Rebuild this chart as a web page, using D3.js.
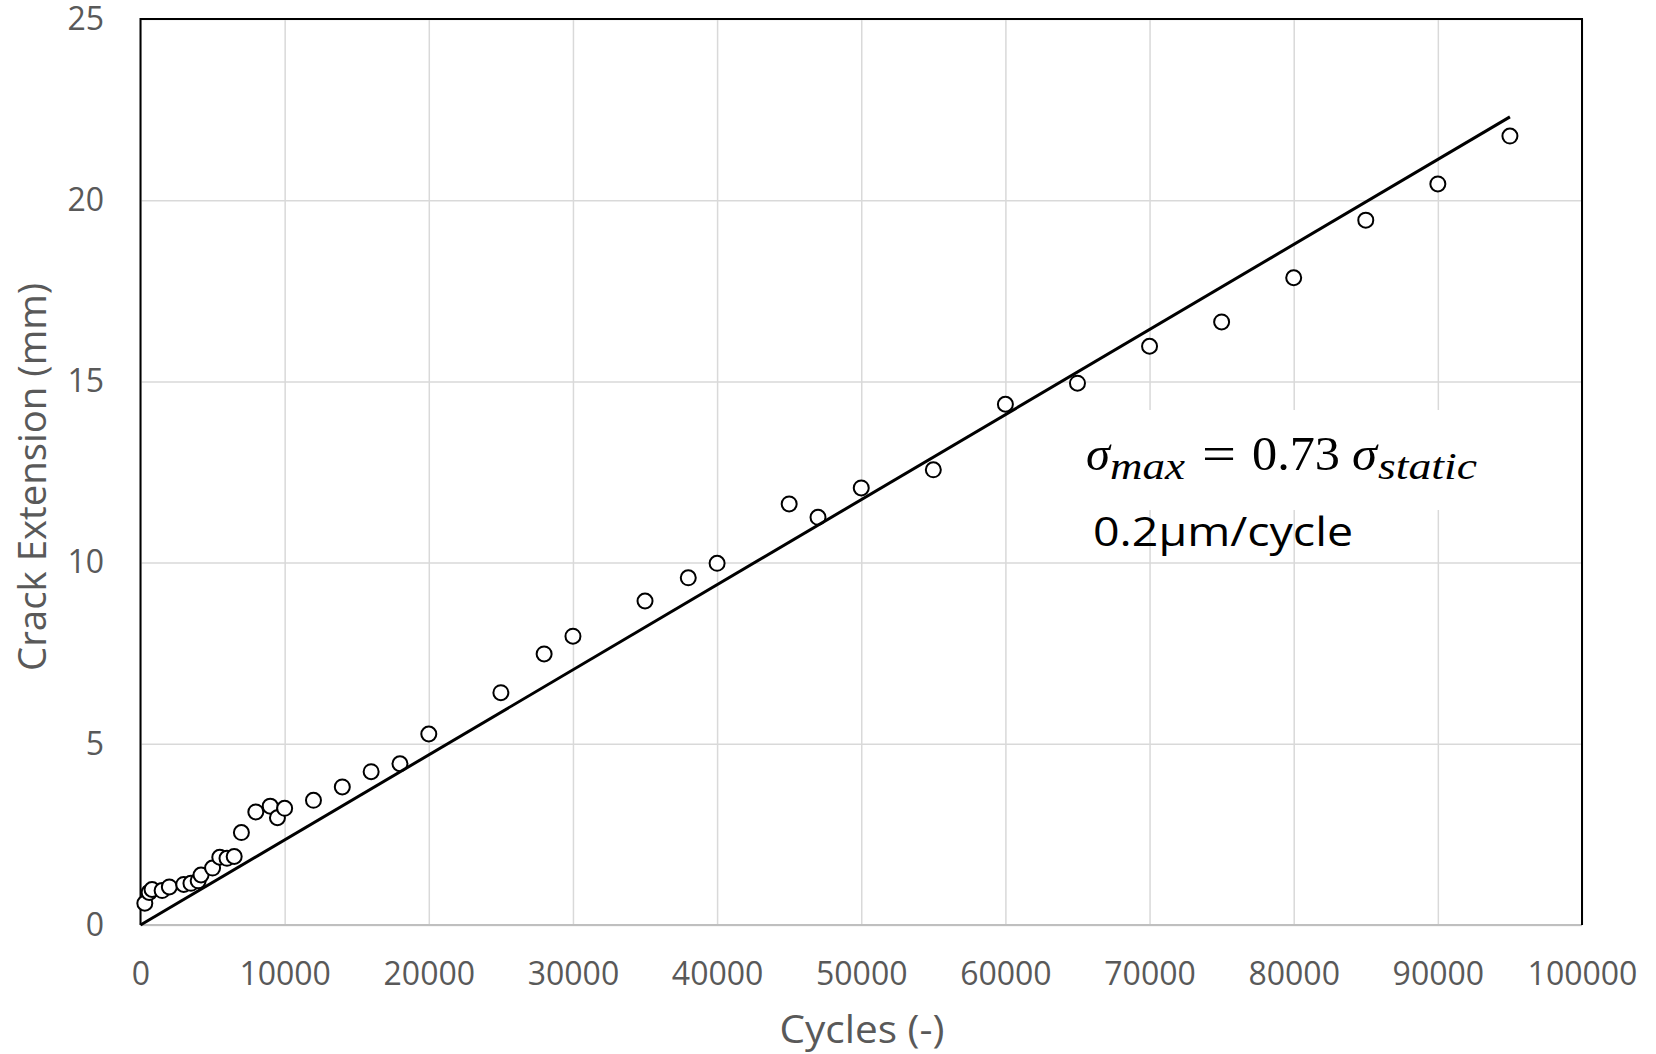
<!DOCTYPE html>
<html><head><meta charset="utf-8">
<script src="https://cdn.jsdelivr.net/npm/d3@7"></script>
<style>body{margin:0;background:#fff;} svg{display:block;}</style>
</head><body>
<svg id="chart" width="1656" height="1054"></svg>
<script>
// ---- data ----
const cycles = [300, 600, 800, 1500, 2000, 3000, 3500, 4000, 4200, 5000, 5500, 6000, 6500, 7000, 8000, 9000, 9500, 10000,
  12000, 14000, 16000, 18000, 20000, 25000, 28000, 30000, 35000, 38000, 40000, 45000, 47000, 50000, 55000,
  60000, 65000, 70000, 75000, 80000, 85000, 90000, 95000];
const crackExt = [0.60, 0.90, 0.98, 0.95, 1.05, 1.12, 1.15, 1.22, 1.38, 1.57, 1.87, 1.84, 1.89, 2.55, 3.12, 3.28, 2.96, 3.22,
  3.44, 3.81, 4.23, 4.45, 5.27, 6.41, 7.48, 7.97, 8.94, 9.58, 9.98, 11.62, 11.25, 12.06, 12.56,
  14.37, 14.95, 15.97, 16.64, 17.86, 19.45, 20.45, 21.77];
const fitCycles = [0, 95000];
const fitExt = [0, 22.3];
const xTickValues = [0, 10000, 20000, 30000, 40000, 50000, 60000, 70000, 80000, 90000, 100000];
const yTickValues = [0, 5, 10, 15, 20, 25];
const xTitle = "Cycles (-)";
const yTitle = "Crack Extension (mm)";
const rateLabel = "0.2\u00B5m/cycle";
const eqParts = ["\u03C3", "max", "=", "0.73", "\u03C3", "static"];

// ---- layout ----
const m = {left: 140.5, top: 19, right: 1582, bottom: 925};
const x = d3.scaleLinear().domain([0, 100000]).range([m.left, m.right]);
const y = d3.scaleLinear().domain([0, 25]).range([m.bottom, m.top]);
const svg = d3.select('#chart');
const tickColor = '#595959';

// gridlines + tick labels via axes
const gx = svg.append('g').attr('transform', `translate(0,${m.bottom})`)
  .call(d3.axisBottom(x).tickValues(xTickValues).tickSize(-(m.bottom - m.top)).tickPadding(37).tickFormat(d3.format('d')));
const gy = svg.append('g').attr('transform', `translate(${m.left},0)`)
  .call(d3.axisLeft(y).tickValues(yTickValues).tickSize(-(m.right - m.left)).tickPadding(36.5).tickFormat(d3.format('d')));
[gx, gy].forEach(g => {
  g.select('.domain').remove();
  g.selectAll('.tick line').attr('stroke', '#d9d9d9').attr('stroke-width', 1.5);
  g.selectAll('.tick text').attr('fill', tickColor).style('font-family', '"Open Sans", sans-serif').style('font-size', '32px');
});

// white box behind equation
svg.append('rect').attr('x', 1075).attr('y', 410).attr('width', 418).attr('height', 100).attr('fill', '#fff');

// frame
svg.append('line').attr('x1', m.left).attr('x2', m.right).attr('y1', m.bottom).attr('y2', m.bottom)
  .attr('stroke', '#bfbfbf').attr('stroke-width', 2);
svg.append('path').attr('d', `M${m.left},${m.bottom}V${m.top}H${m.right}V${m.bottom}`)
  .attr('fill', 'none').attr('stroke', '#000').attr('stroke-width', 2);

// markers
const pts = cycles.map((c, i) => ({c, e: crackExt[i]}));
svg.append('g').selectAll('circle').data(pts).join('circle')
  .attr('cx', d => x(d.c)).attr('cy', d => y(d.e)).attr('r', 7.5)
  .attr('fill', '#fff').attr('stroke', '#000').attr('stroke-width', 2);

// fit line
const fit = fitCycles.map((c, i) => [c, fitExt[i]]);
svg.append('path').datum(fit).attr('d', d3.line().x(d => x(d[0])).y(d => y(d[1])))
  .attr('fill', 'none').attr('stroke', '#000').attr('stroke-width', 3);

// axis titles
svg.append('text').attr('x', 862).attr('y', 1043).attr('text-anchor', 'middle')
  .attr('fill', tickColor).style('font-family', '"Open Sans", sans-serif').style('font-size', '38px')
  .attr('textLength', 165).attr('lengthAdjust', 'spacingAndGlyphs').text(xTitle);
svg.append('text').attr('transform', 'translate(46,477) rotate(-90)').attr('text-anchor', 'middle')
  .attr('fill', tickColor).style('font-family', '"Open Sans", sans-serif').style('font-size', '38px')
  .attr('textLength', 388).attr('lengthAdjust', 'spacingAndGlyphs').text(yTitle);

// equation: sigma_max = 0.73 sigma_static
const eqLayout = [
  {x: 1086, y: 470, w: 24, size: 48, italic: true},
  {x: 1110, y: 479, w: 75, size: 38, italic: true},
  {x: 1202, y: 470, w: 34, size: 48, italic: false},
  {x: 1252, y: 470, w: 88, size: 48, italic: false},
  {x: 1352, y: 470, w: 25, size: 48, italic: true},
  {x: 1378, y: 479, w: 99, size: 38, italic: true}
];
const eqG = svg.append('g');
eqParts.forEach((t, i) => {
  const L = eqLayout[i];
  eqG.append('text').attr('x', L.x).attr('y', L.y).attr('fill', '#000')
    .style('font-family', '"Liberation Serif", "DejaVu Serif", serif')
    .style('font-size', L.size + 'px').style('font-style', L.italic ? 'italic' : 'normal')
    .attr('textLength', L.w).attr('lengthAdjust', 'spacingAndGlyphs').text(t);
});

svg.append('text').attr('x', 1093).attr('y', 546).attr('fill', '#000')
  .style('font-family', '"Open Sans", sans-serif').style('font-size', '40px')
  .attr('textLength', 260).attr('lengthAdjust', 'spacingAndGlyphs').text(rateLabel);
</script>
</body></html>
